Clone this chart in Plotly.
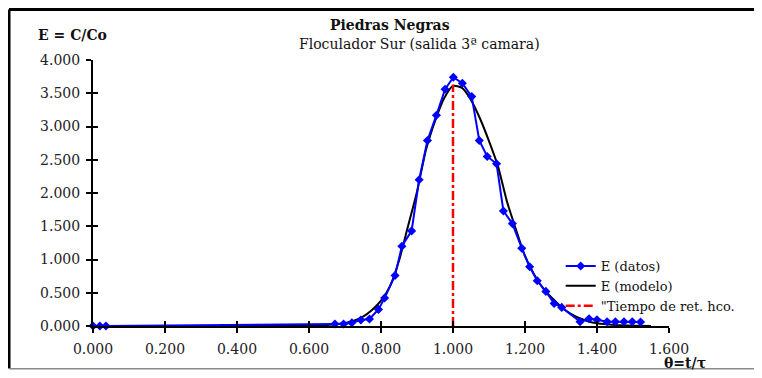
import plotly.graph_objects as go

# ---- data ----
theta_datos = [0.000, 0.019, 0.036, 0.672, 0.696, 0.719, 0.744, 0.768, 0.793, 0.810,
               0.839, 0.858, 0.885, 0.906, 0.929, 0.954, 0.978, 1.001, 1.026, 1.052,
               1.073, 1.095, 1.121, 1.140, 1.165, 1.191, 1.213, 1.234, 1.258, 1.281,
               1.302, 1.353, 1.378, 1.400, 1.428, 1.451, 1.475, 1.498, 1.521]
E_datos = [0.000, 0.000, 0.000, 0.030, 0.030, 0.050, 0.090, 0.105, 0.250, 0.420,
           0.760, 1.200, 1.430, 2.200, 2.790, 3.170, 3.560, 3.740, 3.650, 3.450,
           2.790, 2.550, 2.440, 1.730, 1.540, 1.170, 0.890, 0.680, 0.520, 0.340,
           0.280, 0.065, 0.110, 0.095, 0.065, 0.065, 0.065, 0.065, 0.060]

theta_modelo = [0.00, 0.55, 0.60, 0.65, 0.70, 0.725, 0.75, 0.775, 0.80, 0.825, 0.85,
                0.875, 0.90, 0.925, 0.95, 0.975, 1.00, 1.025, 1.05, 1.075, 1.10,
                1.125, 1.15, 1.175, 1.20, 1.225, 1.25, 1.275, 1.30, 1.325, 1.35,
                1.375, 1.40, 1.45, 1.50, 1.55]
E_modelo = [0.000, 0.000, 0.005, 0.015, 0.045, 0.080, 0.140, 0.240, 0.380, 0.600, 0.980,
            1.500, 2.020, 2.650, 3.080, 3.420, 3.610, 3.580, 3.400, 3.120, 2.780,
            2.400, 1.870, 1.450, 1.050, 0.780, 0.570, 0.420, 0.290, 0.190, 0.120,
            0.070, 0.040, 0.015, 0.005, 0.000]

theta_ret = [1.000, 1.000]
E_ret = [0.000, 3.630]

x_ticks = [0.0, 0.2, 0.4, 0.6, 0.8, 1.0, 1.2, 1.4, 1.6]
y_ticks = [0.0, 0.5, 1.0, 1.5, 2.0, 2.5, 3.0, 3.5, 4.0]

FONT = "DejaVu Serif"

fig = go.Figure()
fig.add_trace(go.Scatter(x=theta_modelo, y=E_modelo, mode="lines", name="E (modelo)",
                         line=dict(color="black", width=2, shape="spline", smoothing=0.6),
                         legendrank=2, cliponaxis=False))
fig.add_trace(go.Scatter(x=theta_datos, y=E_datos, mode="lines+markers", name="E (datos)",
                         line=dict(color="#0000FF", width=2),
                         marker=dict(symbol="diamond", size=7, color="#0000FF"),
                         legendrank=1, cliponaxis=False))
fig.add_trace(go.Scatter(x=theta_ret, y=E_ret, mode="lines", name="\"Tiempo de ret. hco.",
                         line=dict(color="#FF0000", width=2.5, dash="dashdot"),
                         legendrank=3, cliponaxis=False))
# helper trace for the crossing tick marks
fig.add_trace(go.Scatter(x=[None], y=[None], xaxis="x2", yaxis="y2", showlegend=False,
                         hoverinfo="skip"))

tickfont = dict(family=FONT, size=14, color="#222222")
fig.update_layout(
    width=746, height=362, autosize=False,
    margin=dict(l=85, r=85, t=52, b=44),
    paper_bgcolor="white", plot_bgcolor="white",
    showlegend=True,
    legend=dict(x=0.812, y=0.282, xanchor="left", yanchor="top",
                font=dict(family=FONT, size=13, color="#111111"),
                bgcolor="rgba(0,0,0,0)", tracegroupgap=0, itemwidth=30),
    xaxis=dict(range=[0, 1.6], tickvals=x_ticks, tickformat=".3f", showgrid=False,
               zeroline=False, showline=True, linecolor="black", linewidth=2,
               ticks="outside", ticklen=5, tickwidth=2, tickcolor="black",
               tickfont=tickfont, ticklabelstandoff=4),
    yaxis=dict(range=[0, 4.0], tickvals=y_ticks, tickformat=".3f", showgrid=False,
               zeroline=False, showline=True, linecolor="black", linewidth=2,
               ticks="outside", ticklen=5, tickwidth=2, tickcolor="black",
               tickfont=tickfont, ticklabelstandoff=3),
    xaxis2=dict(range=[0, 1.6], tickvals=x_ticks, overlaying="x", anchor="y",
                showticklabels=False, showgrid=False, zeroline=False, showline=False,
                ticks="inside", ticklen=5, tickwidth=2, tickcolor="black"),
    yaxis2=dict(range=[0, 4.0], tickvals=y_ticks, overlaying="y", anchor="x",
                showticklabels=False, showgrid=False, zeroline=False, showline=False,
                ticks="inside", ticklen=5, tickwidth=2, tickcolor="black"),
)

annots = [
    dict(text="<b>Piedras Negras</b>", x=0.5156, y=1.1316, size=14),
    dict(text="Floculador Sur (salida 3ª camara)", x=0.566, y=1.060, size=14),
]
for a in annots:
    fig.add_annotation(text=a["text"], x=a["x"], y=a["y"], xref="paper", yref="paper",
                       xanchor="center", yanchor="middle", showarrow=False,
                       font=dict(family=FONT, size=a["size"], color="#111111"))
fig.add_annotation(text="<b>E = C/Co</b>", x=-0.099, y=1.094, xref="paper", yref="paper",
                   xanchor="left", yanchor="middle", showarrow=False,
                   font=dict(family=FONT, size=14, color="#111111"))
fig.add_annotation(text="<b>θ=t/τ</b>", x=1.028, y=-0.138, xref="paper", yref="paper",
                   xanchor="center", yanchor="middle", showarrow=False,
                   font=dict(family=FONT, size=14, color="#111111"))

# outer frame (page is offset by the 8px body margin)
fig.add_shape(type="line", xref="paper", yref="paper", x0=-0.1458, x1=1.25, y0=1.19, y1=1.19,
              line=dict(color="black", width=3))
fig.add_shape(type="line", xref="paper", yref="paper", x0=-0.1458, x1=-0.1458, y0=-0.16, y1=1.19,
              line=dict(color="black", width=3))
fig.add_shape(type="line", xref="paper", yref="paper", x0=-0.1458, x1=1.25, y0=-0.161, y1=-0.161,
              line=dict(color="#888888", width=1.5))

fig.write_html("out.html")
